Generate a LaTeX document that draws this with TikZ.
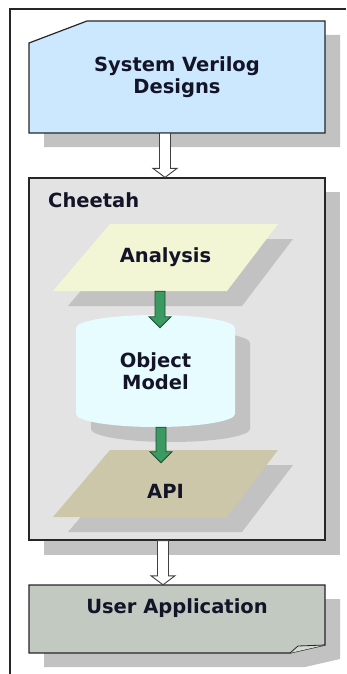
\documentclass[tikz,border=0pt]{standalone}
\usepackage{fontspec}
\setmainfont{DejaVu Sans}
\usepackage{tikz}
\usetikzlibrary{calc}
\definecolor{dblue}  {RGB}{204,232,255}
\definecolor{cgray}  {RGB}{227,227,227}
\definecolor{sgray}  {RGB}{194,194,194}
\definecolor{ayellow}{RGB}{242,246,212}
\definecolor{mcyan}  {RGB}{230,252,255}
\definecolor{atan}   {RGB}{205,199,169}
\definecolor{agreen} {RGB}{194,201,192}
\definecolor{mgreen} {RGB}{58,154,98}
\definecolor{dgreen} {RGB}{30,77,51}
\definecolor{ink}    {RGB}{20,20,40}
\tikzset{
    shade/.style={fill=sgray, draw=none},
    framed/.style={draw=black!85, line width=1.2pt},
    lbl/.style={font=\fontsize{19.5}{22}\selectfont\bfseries, text=ink, align=center, inner sep=0pt},
    hollow/.style={draw=black!75, fill=white, line width=0.9pt},
    greentip/.style={draw=dgreen, fill=mgreen, line width=0.8pt}
  }
% block arrow: style, from, to, shaft half width, head half width, head length
\newcommand{\blockarrow}[6]{%
  \path[#1] let \p1=(#2), \p2=(#3) in
    (\x1-#4pt,\y1) -- (\x1-#4pt,\y2+#6pt) -- (\x1-#5pt,\y2+#6pt) -- (\x1,\y2)
    -- (\x1+#5pt,\y2+#6pt) -- (\x1+#4pt,\y2+#6pt) -- (\x1+#4pt,\y1) -- cycle;}

\begin{document}
\begin{tikzpicture}[x=1pt,y=-1pt]
 \useasboundingbox (0,0) rectangle (346,674);
 %Frame
     \draw[framed] (10,674) -- (10,9) -- (346,9);
 %System Verilog Designs
     \fill[shade] (44,57) -- (102,35) -- (340,35) -- (340,147) -- (44,147) -- cycle;
     \draw[framed,fill=dblue] (29,43) -- (87,21) -- (325,21) -- (325,133) -- (29,133) -- cycle;
     \node[lbl,minimum width=296pt,minimum height=112pt] (designs) at (177,77) {System Verilog\\Designs};
 %Cheetah
     \fill[shade] (44,192) rectangle (340,555);
     \node[framed,fill=cgray,minimum width=296pt,minimum height=362pt,inner sep=0pt] (cheetah) at (177,359) {};
     \node[lbl,anchor=west] (cheetahlabel) at (48,200) {Cheetah};
 %Analysis
     \fill[shade] (68,306) -- (242,306) -- (293,239) -- (125,239) -- cycle;
     \fill[ayellow] (53,291) -- (227,291) -- (278,224) -- (110,224) -- cycle;
     \node[lbl,minimum height=67pt] (analysis) at (165.5,257.5) {Analysis};
 %Object Model
     \fill[shade] (91,343) arc[start angle=180,end angle=0,x radius=79.5pt,y radius=13pt]
         -- (250,429) arc[start angle=0,end angle=-180,x radius=79.5pt,y radius=13pt] -- cycle;
     \fill[mcyan] (76,328) arc[start angle=180,end angle=0,x radius=79.5pt,y radius=13pt]
         -- (235,414) arc[start angle=0,end angle=-180,x radius=79.5pt,y radius=13pt] -- cycle;
     \node[lbl,minimum width=159pt,minimum height=112pt] (model) at (155.5,371) {Object\\Model};
 %API
     \fill[shade] (68,532) -- (242,532) -- (293,465) -- (125,465) -- cycle;
     \fill[atan] (53,517) -- (227,517) -- (278,450) -- (110,450) -- cycle;
     \node[lbl,minimum height=67pt] (api) at (165.5,483.5) {\raisebox{-8pt}[\height][\depth]{API}};
 %User Application
     \fill[shade] (44,599) -- (340,599) -- (340,659) -- (305,667) -- (44,667) -- cycle;
     \draw[framed,fill=agreen] (29,585) -- (325,585) -- (325,645) -- (290,653) -- (29,653) -- cycle;
     \draw[framed,line width=0.8pt,fill=agreen!70] (290,653) -- (298,646) -- (325,645);
     \node[lbl,minimum width=296pt,minimum height=68pt] (app) at (177,619) {\raisebox{11pt}[\height][\depth]{User Application}};
 % arrows
     \blockarrow{hollow}{[xshift=-12pt]designs.south}{cheetah.north}{5.5}{12}{9}
     \blockarrow{greentip}{[xshift=-5.5pt]analysis.south}{[yshift=-13pt]model.north}{5}{11}{11}
     \blockarrow{greentip}{[xshift=5.5pt]model.south}{[yshift=-13pt]api.north}{5}{11}{11}
     \blockarrow{hollow}{[xshift=-14pt]cheetah.south}{app.north}{5.5}{12}{9}
\end{tikzpicture}
\end{document}
